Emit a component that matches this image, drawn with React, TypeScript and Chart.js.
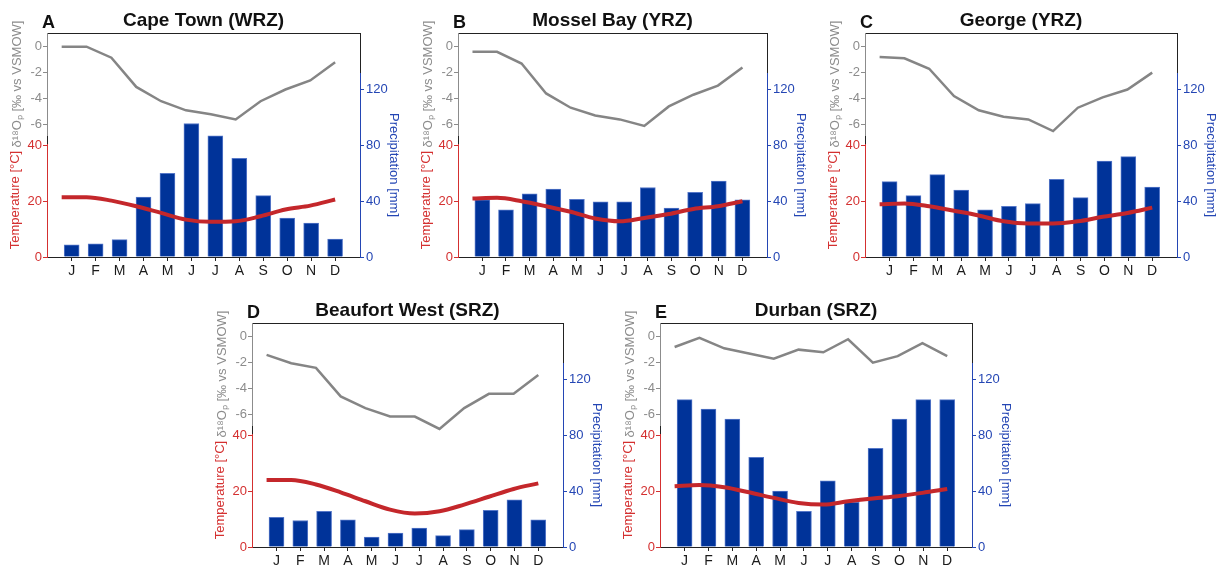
import React, { useEffect, useRef } from 'react';
import { Chart, registerables } from 'chart.js';

Chart.register(...registerables);

const FONT = "'Liberation Sans', Arial, Helvetica, sans-serif";

// ---------- data ----------
const months = ['J', 'F', 'M', 'A', 'M', 'J', 'J', 'A', 'S', 'O', 'N', 'D'];
const d18OTicks = [0, -2, -4, -6];
const tempTicks = [0, 20, 40];
const precipTicks = [0, 40, 80, 120];

const capeTownD18O = [0, 0, -0.85, -3.1, -4.2, -4.9, -5.2, -5.6, -4.2, -3.3, -2.6, -1.2];
const capeTownTemp = [21.4, 21.4, 20.2, 18.2, 15.8, 13.4, 12.6, 12.8, 14.6, 17.0, 18.4, 20.6];
const capeTownPrecip = [8.8, 9.5, 12.4, 42.9, 60, 95.7, 86.9, 70.7, 44, 27.9, 24.3, 12.9];

const mosselBayD18O = [-0.4, -0.4, -1.3, -3.6, -4.7, -5.3, -5.6, -6.1, -4.6, -3.7, -3.0, -1.6];
const mosselBayTemp = [21.0, 21.2, 20.0, 18.2, 16.2, 13.8, 12.8, 14.0, 15.4, 17.2, 18.2, 20.0];
const mosselBayPrecip = [41, 33.8, 45.2, 48.6, 41.4, 39.5, 39.5, 49.8, 35, 46.4, 54.5, 41];

const georgeD18O = [-0.8, -0.9, -1.7, -3.8, -4.9, -5.4, -5.6, -6.5, -4.7, -3.9, -3.3, -2.0];
const georgeTemp = [18.9, 19.2, 18.2, 16.6, 14.9, 12.8, 12.0, 12.0, 12.8, 14.4, 15.8, 17.7];
const georgePrecip = [54, 44, 59, 47.9, 33.8, 36.4, 38.3, 55.7, 42.6, 68.8, 71.9, 50.2];

const beaufortWestD18O = [-1.4, -2.05, -2.4, -4.6, -5.5, -6.15, -6.15, -7.1, -5.5, -4.4, -4.4, -2.95];
const beaufortWestTemp = [24, 24, 22.4, 19.6, 16.4, 13.4, 12.0, 12.8, 15.2, 18.0, 20.8, 22.8];
const beaufortWestPrecip = [21.2, 19, 25.5, 19.5, 7.1, 10, 13.6, 8.1, 12.4, 26.2, 33.8, 19.5];

const durbanD18O = [-0.8, -0.1, -0.9, -1.3, -1.7, -1.0, -1.2, -0.2, -2.0, -1.5, -0.5, -1.5];
const durbanTemp = [21.8, 22.2, 21.4, 19.6, 17.6, 15.8, 15.2, 16.4, 17.4, 18.2, 19.4, 20.8];
const durbanPrecip = [105.7, 98.8, 91.7, 64.3, 40, 25.5, 47.4, 32, 70.7, 91.7, 105.7, 105.7];

// ---------- styles ----------
const GREY_LINE = '#858585';
const GREY_TEXT = '#8c8c8c';
const RED_TEXT = '#d43030';
const RED_LINE = '#c4272b';
const BLUE_TEXT = '#2446b4';
const BAR_FILL = '#003399';
const BAR_EDGE = '#5577c8';
const FRAME = '#222222';

type Panel = {
  letter: string;
  title: string;
  d18O: number[];
  temp: number[];
  precip: number[];
  plotLeft: number;
  rowTop: number;
  plotW: number;
  canvasH: number;
};

const panels: Panel[] = [
  { letter: 'A', title: 'Cape Town (WRZ)', d18O: capeTownD18O, temp: capeTownTemp, precip: capeTownPrecip, plotLeft: 47, rowTop: 0, plotW: 313, canvasH: 285 },
  { letter: 'B', title: 'Mossel Bay (YRZ)', d18O: mosselBayD18O, temp: mosselBayTemp, precip: mosselBayPrecip, plotLeft: 458, rowTop: 0, plotW: 309, canvasH: 285 },
  { letter: 'C', title: 'George (YRZ)', d18O: georgeD18O, temp: georgeTemp, precip: georgePrecip, plotLeft: 865, rowTop: 0, plotW: 312, canvasH: 285 },
  { letter: 'D', title: 'Beaufort West (SRZ)', d18O: beaufortWestD18O, temp: beaufortWestTemp, precip: beaufortWestPrecip, plotLeft: 252, rowTop: 290, plotW: 311, canvasH: 278 },
  { letter: 'E', title: 'Durban (SRZ)', d18O: durbanD18O, temp: durbanTemp, precip: durbanPrecip, plotLeft: 660, rowTop: 290, plotW: 312, canvasH: 278 },
];

const LEFT_W = 47;
const RIGHT_W = 50;
const TITLE_H = 33;
const PLOT_H = 224;

function ClimatePanel({ p }: { p: Panel }) {
  const ref = useRef<HTMLCanvasElement>(null);
  const canvasW = LEFT_W + p.plotW + RIGHT_W;

  useEffect(() => {
    if (!ref.current) return;
    const bottomH = p.canvasH - TITLE_H - PLOT_H;
    const setW = (w: number) => (s: any) => { s.width = w; };
    const spacerAxis = (position: 'left' | 'right', stack: string, weight: number, w: number) => ({
      type: 'linear' as const,
      position,
      stack,
      stackWeight: weight,
      min: 0,
      max: 1,
      ticks: { display: false },
      grid: { display: false },
      border: { display: true, color: FRAME, width: 1 },
      afterFit: setW(w),
    });

    const chart = new Chart(ref.current, {
      type: 'bar',
      data: {
        datasets: [
          {
            type: 'line',
            label: 'δ18O',
            data: p.d18O.map((v, i) => ({ x: i, y: v })),
            xAxisID: 'xl',
            yAxisID: 'yD',
            borderColor: GREY_LINE,
            borderWidth: 2.5,
            pointRadius: 0,
            tension: 0,
            clip: false,
            order: 0,
          } as any,
          {
            type: 'line',
            label: 'Temperature',
            data: p.temp.map((v, i) => ({ x: i, y: v })),
            xAxisID: 'xl',
            yAxisID: 'yT',
            borderColor: RED_LINE,
            borderWidth: 4,
            pointRadius: 0,
            cubicInterpolationMode: 'monotone',
            clip: false,
            order: 1,
          } as any,
          {
            type: 'bar',
            label: 'Precipitation',
            data: p.precip.map((v, i) => ({ x: i, y: v })),
            xAxisID: 'x',
            yAxisID: 'yP',
            backgroundColor: BAR_FILL,
            borderColor: BAR_EDGE,
            borderWidth: 1,
            borderSkipped: 'bottom',
            barThickness: 15,
            grouped: false,
            order: 2,
          } as any,
        ],
      },
      options: {
        responsive: false,
        animation: false,
        devicePixelRatio: 1,
        layout: { padding: 0 },
        font: { family: FONT },
        plugins: {
          legend: { display: false },
          tooltip: { enabled: false },
          title: {
            display: true,
            text: p.title,
            fullSize: false,
            color: '#111111',
            font: { family: FONT, size: 19, weight: 'bold', lineHeight: 1.2 },
            padding: { top: 9.5, bottom: 0.7 },
          },
        },
        scales: {
          x: {
            type: 'linear',
            position: 'bottom',
            min: -1.03,
            max: 12.04,
            bounds: 'data',
            offset: false,
            afterBuildTicks: (ax: any) => { ax.ticks = months.map((_, i) => ({ value: i })); },
            ticks: {
              callback: (v: any) => months[v as number],
              color: '#1a1a1a',
              font: { family: FONT, size: 14 },
              padding: 2,
              maxRotation: 0,
              autoSkip: false,
            },
            grid: { display: true, offset: false, drawOnChartArea: false, drawTicks: true, tickLength: 4, color: FRAME },
            border: { display: true, color: FRAME, width: 1 },
            afterFit: (s: any) => { s.height = bottomH; },
          },
          xl: {
            type: 'linear',
            position: 'bottom',
            display: false,
            offset: false,
            grid: { offset: false },
            min: -0.59,
            max: 12.0,
            bounds: 'data',
          },
          xt: {
            type: 'linear',
            position: 'top',
            offset: false,
            min: 0,
            max: 1,
            ticks: { display: false },
            grid: { display: false, offset: false },
            border: { display: true, color: FRAME, width: 1 },
            afterFit: (s: any) => { s.height = 0; },
          },
          yT: {
            type: 'linear',
            position: 'left',
            stack: 'left',
            stackWeight: 114,
            min: 0,
            max: 40.86,
            bounds: 'data',
            afterBuildTicks: (ax: any) => { ax.ticks = tempTicks.map((v) => ({ value: v })); },
            ticks: { color: RED_TEXT, font: { family: FONT, size: 13 }, padding: 1, callback: (v: any) => String(v) },
            grid: { display: true, drawOnChartArea: false, drawTicks: true, tickLength: 4, color: RED_TEXT },
            border: { display: true, color: RED_TEXT, width: 1 },
            title: { display: true, text: 'Temperature [°C]', color: RED_TEXT, font: { family: FONT, size: 13, lineHeight: 1.2 }, padding: { top: 7.5, bottom: 0 } },
            afterFit: setW(LEFT_W),
          },
          ySpL: spacerAxis('left', 'left', 8, LEFT_W),
          yD: {
            type: 'linear',
            position: 'left',
            stack: 'left',
            stackWeight: 102,
            min: -6.8,
            max: 1.05,
            bounds: 'data',
            afterBuildTicks: (ax: any) => { ax.ticks = d18OTicks.map((v) => ({ value: v })); },
            ticks: { color: GREY_TEXT, font: { family: FONT, size: 13 }, padding: 1, callback: (v: any) => String(v) },
            grid: { display: true, drawOnChartArea: false, drawTicks: true, tickLength: 4, color: GREY_TEXT },
            border: { display: true, color: GREY_TEXT, width: 1 },
            title: { display: true, text: 'δ¹⁸Oₚ [‰ vs VSMOW]', color: GREY_TEXT, font: { family: FONT, size: 13, lineHeight: 1.2 }, padding: { top: 10, bottom: 0 } },
            afterFit: setW(LEFT_W),
          },
          ySpR: spacerAxis('right', 'right', 40, RIGHT_W),
          yP: {
            type: 'linear',
            position: 'right',
            stack: 'right',
            stackWeight: 184,
            min: 0,
            max: 131.9,
            bounds: 'data',
            afterBuildTicks: (ax: any) => { ax.ticks = precipTicks.map((v) => ({ value: v })); },
            ticks: { color: BLUE_TEXT, font: { family: FONT, size: 13 }, padding: 2, callback: (v: any) => String(v) },
            grid: { display: true, drawOnChartArea: false, drawTicks: true, tickLength: 4, color: BLUE_TEXT },
            border: { display: true, color: BLUE_TEXT, width: 1 },
            title: { display: true, text: 'Precipitation [mm]', color: BLUE_TEXT, font: { family: FONT, size: 13, lineHeight: 1.2 }, padding: { top: 9, bottom: 0 } },
            afterFit: setW(RIGHT_W),
          },
        },
      } as any,
    });
    return () => chart.destroy();
  }, [p]);

  return (
    <>
      <canvas
        ref={ref}
        width={canvasW}
        height={p.canvasH}
        style={{ position: 'absolute', left: p.plotLeft - LEFT_W, top: p.rowTop, width: canvasW, height: p.canvasH }}
      />
      <div
        style={{
          position: 'absolute',
          left: p.plotLeft - 5,
          top: p.rowTop + 13,
          fontFamily: FONT,
          fontWeight: 'bold',
          fontSize: 18,
          lineHeight: '18px',
          color: '#111',
        }}
      >
        {p.letter}
      </div>
    </>
  );
}

export default function App() {
  return (
    <div style={{ position: 'absolute', left: 0, top: 0, width: 1220, height: 568, overflow: 'hidden', background: '#fff' }}>
      {panels.map((p) => (
        <ClimatePanel key={p.letter} p={p} />
      ))}
    </div>
  );
}
